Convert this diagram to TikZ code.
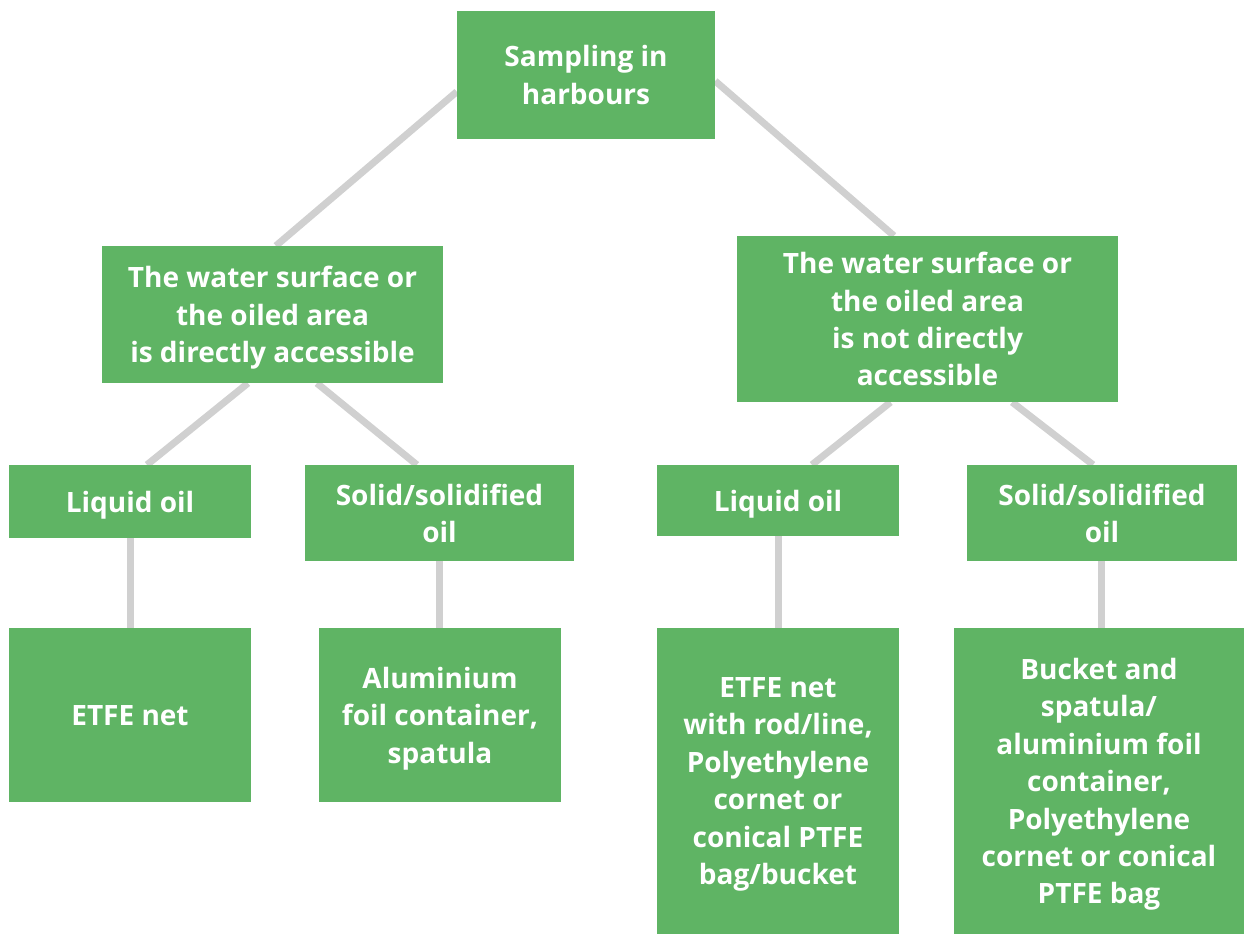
\documentclass[tikz,border=0pt]{standalone}
\usepackage{fontspec}
\setmainfont{Open Sans}
\usetikzlibrary{calc,backgrounds}
\definecolor{boxgreen}{RGB}{95,180,100}
\definecolor{linegray}{RGB}{208,208,208}
\tikzset{
  box/.style={fill=boxgreen, text=white, font=\bfseries\fontsize{28}{37.4}\selectfont,
    align=center, inner sep=0pt, draw=none, text depth=0pt},
  conn/.style={draw=linegray, line width=7pt}
}
\begin{document}
\begin{tikzpicture}[x=1pt,y=-1pt]
\useasboundingbox (0,0) rectangle (1245,934);
\node[box, minimum width=258pt, minimum height=128pt] (top) at (586,75) {Sampling in\\harbours};
\node[box, minimum width=341pt, minimum height=137pt] (lm) at (272.5,314.5) {The water surface or\\the oiled area\\is directly accessible};
\node[box, minimum width=381pt, minimum height=166pt] (rm) at (927.5,319) {The water surface or\\the oiled area\\is not directly\\accessible};
\node[box, minimum width=242pt, minimum height=73pt] (l1) at (130,501.5) {Liquid oil};
\node[box, minimum width=269pt, minimum height=96pt] (l2) at (439.5,513) {Solid/solidified\\oil};
\node[box, minimum width=242pt, minimum height=71pt] (r1) at (778,500.5) {Liquid oil};
\node[box, minimum width=270pt, minimum height=96pt] (r2) at (1102,513) {Solid/solidified\\oil};
\node[box, minimum width=242pt, minimum height=174pt] (ll1) at (130,715) {ETFE net};
\node[box, minimum width=242pt, minimum height=174pt] (ll2) at (440,715) {Aluminium\\foil container,\\spatula};
\node[box, minimum width=242pt, minimum height=306pt] (rl1) at (778,781) {ETFE net\\with rod/line,\\Polyethylene\\cornet or\\conical PTFE\\bag/bucket};
\node[box, minimum width=290pt, minimum height=306pt] (rl2) at (1099,781) {Bucket and\\spatula/\\aluminium foil\\container,\\Polyethylene\\cornet or conical\\PTFE bag};
\begin{scope}[on background layer]
\draw[conn] ($(top.north west)!0.63!(top.south west)$) -- ($(lm.north west)!0.51!(lm.north east)$);
\draw[conn] ($(top.north east)!0.547!(top.south east)$) -- ($(rm.north west)!0.412!(rm.north east)$);
\draw[conn] ($(lm.south west)!0.428!(lm.south east)$) -- ($(l1.north west)!0.57!(l1.north east)$);
\draw[conn] ($(lm.south west)!0.63!(lm.south east)$) -- ($(l2.north west)!0.416!(l2.north east)$);
\draw[conn] ($(rm.south west)!0.403!(rm.south east)$) -- ($(r1.north west)!0.64!(r1.north east)$);
\draw[conn] ($(rm.south west)!0.722!(rm.south east)$) -- ($(r2.north west)!0.467!(r2.north east)$);
\draw[conn] (l1.south) -- (l1.south |- ll1.north);
\draw[conn] (l2.south) -- (l2.south |- ll2.north);
\draw[conn] (r1.south) -- (r1.south |- rl1.north);
\draw[conn] ($(r2.south)+(-1,0)$) -- ($(r2.south |- rl2.north)+(-1,0)$);
\end{scope}
\end{tikzpicture}
\end{document}
